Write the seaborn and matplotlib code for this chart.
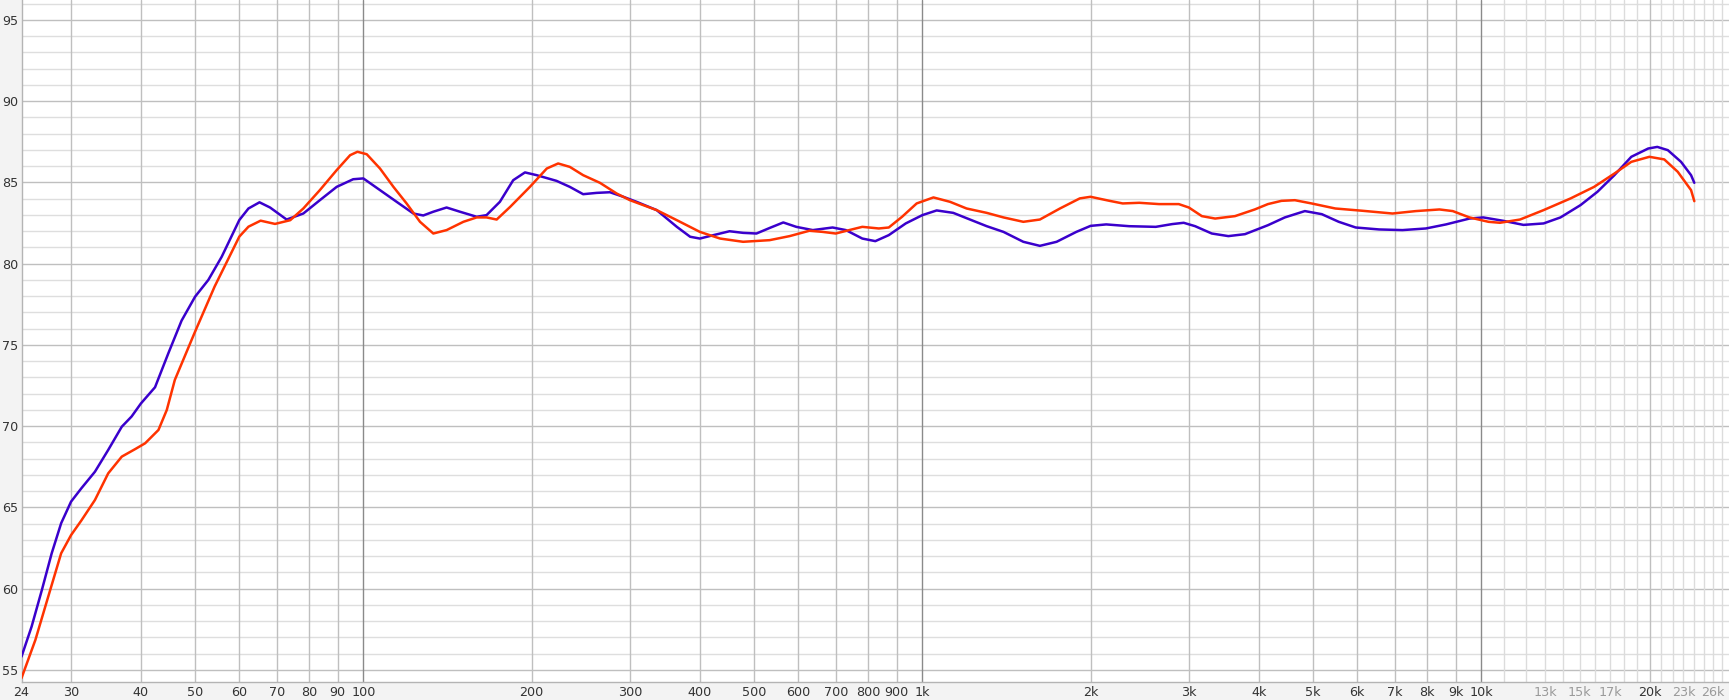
import matplotlib
matplotlib.use('Agg')
import matplotlib.pyplot as plt
import seaborn as sns
import pandas as pd
import numpy as np

# frequency response (Hz, dB)
blue_freq = [24.46, 25.5, 26.6, 27.7, 28.8, 30.0, 31.3, 33.1, 34.96, 36.97, 38.5, 40.0,
             42.4, 44.8, 47.3, 50.0, 52.8, 55.8, 60.0, 62.3, 65.2, 68.1, 72.9, 78.1,
             83.6, 89.6, 95.9, 100, 107.1, 114.7, 122.9, 128.0, 133.4, 140.9, 148.9,
             159.5, 166.1, 175.5, 185.4, 194.6, 204.2, 221.6, 234.1, 247.3, 261.4,
             276.1, 291.8, 308.2, 334.8, 363.8, 384.3, 400, 423, 452, 478, 505, 534,
             564, 595, 637, 691, 730, 781, 824, 871, 934, 1000, 1061, 1136, 1217, 1304,
             1397, 1516, 1623, 1739, 1886, 2000, 2133, 2345, 2616, 2800, 2935, 3077,
             3295, 3528, 3778, 4152, 4452, 4835, 5184, 5559, 5961, 6564, 7228, 7960,
             8649, 9524, 10082, 10952, 11898, 12926, 13858, 15054, 16139, 17303, 18551,
             19889, 20649, 21563, 22770, 23730, 24050]
blue_db = [55.82, 57.67, 59.92, 62.18, 64.03, 65.36, 66.18, 67.2, 68.54, 69.97, 70.6, 71.4,
           72.4, 74.5, 76.5, 77.97, 79.0, 80.43, 82.69, 83.4, 83.78, 83.46, 82.72, 83.09,
           83.91, 84.73, 85.2, 85.25, 84.53, 83.81, 83.09, 82.97, 83.2, 83.46, 83.2,
           82.89, 82.99, 83.81, 85.14, 85.62, 85.45, 85.1, 84.73, 84.28, 84.36,
           84.4, 84.12, 83.81, 83.3, 82.27, 81.66, 81.55, 81.76, 82.0, 81.9, 81.86, 82.21,
           82.54, 82.27, 82.07, 82.23, 82.07, 81.55, 81.39, 81.76, 82.48, 82.99, 83.28, 83.13, 82.72, 82.31,
           81.96, 81.35, 81.1, 81.35, 81.96, 82.33, 82.42, 82.31, 82.27, 82.44, 82.52, 82.31,
           81.86, 81.7, 81.82, 82.37, 82.85, 83.24, 83.05, 82.58, 82.23, 82.11, 82.07, 82.17,
           82.42, 82.78, 82.85, 82.64, 82.39, 82.48, 82.85, 83.61, 84.43, 85.45, 86.58,
           87.09, 87.19, 86.99, 86.27, 85.45, 84.98]

red_freq = [24.46, 25.9, 27.3, 28.8, 30.0, 31.3, 33.1, 34.96, 36.97, 39.1, 40.7, 43.0,
            44.5, 46.0, 50.0, 54.2, 60.0, 62.3, 65.5, 69.5, 74.0, 78.1, 83.6, 89.6,
            94.7, 97.6, 101.4, 107.1, 113.2, 119.5, 126.3, 133.4, 140.9, 151.0, 159.5,
            166.1, 173.2, 183.1, 198.6, 212.9, 223.1, 234.1, 247.3, 265.0, 284.0, 299.9,
            334.8, 363.8, 400, 434.7, 478, 533, 579, 628, 663, 700, 740, 781, 836, 871,
            920, 977, 1047, 1121, 1200, 1304, 1397, 1516, 1623, 1763, 1913, 2000, 2163,
            2283, 2445, 2652, 2876, 2998, 3163, 3341, 3626, 3933, 4152, 4391, 4640, 4970,
            5480, 6127, 6936, 7638, 8418, 8892, 9524, 10301, 10800, 11730, 12926, 14448,
            15915, 17303, 18551, 19988, 21250, 22460, 23730, 24050]
red_db = [54.5, 56.85, 59.5, 62.18, 63.3, 64.2, 65.46, 67.1, 68.13, 68.6, 68.95, 69.77,
          71.0, 72.85, 75.82, 78.6, 81.67, 82.28, 82.65, 82.45, 82.68, 83.4, 84.53, 85.76,
          86.68, 86.89, 86.74, 85.86, 84.73, 83.71, 82.58, 81.86, 82.07, 82.58, 82.85,
          82.85, 82.72, 83.5, 84.73, 85.86, 86.17, 85.96, 85.45, 84.98, 84.32, 83.91,
          83.3, 82.68, 81.96, 81.55, 81.35, 81.45, 81.7, 82.03, 81.96, 81.86, 82.07, 82.27, 82.17, 82.23,
          82.89, 83.71, 84.08, 83.81, 83.4, 83.13, 82.85, 82.58, 82.72, 83.4, 84.02, 84.12, 83.87,
          83.71, 83.75, 83.67, 83.67, 83.46, 82.93, 82.78, 82.93, 83.34, 83.67, 83.87, 83.91, 83.71,
          83.4, 83.26, 83.09, 83.24, 83.34, 83.24, 82.85, 82.58, 82.52, 82.72, 83.3, 84.02,
          84.73, 85.55, 86.27, 86.58, 86.42, 85.66, 84.53, 83.85]

# axis ticks
y_ticks = [55, 60, 65, 70, 75, 80, 85, 90, 95]
x_ticks = [30, 40, 50, 60, 70, 80, 90, 100, 200, 300, 400, 500, 600, 700, 800, 900,
           1000, 2000, 3000, 4000, 5000, 6000, 7000, 8000, 9000, 10000,
           13000, 15000, 17000, 20000, 23000, 26000]
x_labels = ['30', '40', '50', '60', '70', '80', '90', '100', '200', '300', '400', '500',
            '600', '700', '800', '900', '1k', '2k', '3k', '4k', '5k', '6k', '7k', '8k',
            '9k', '10k', '13k', '15k', '17k', '20k', '23k', '26k']
faint_labels = ['13k', '15k', '17k', '23k', '26k']
decade_lines = [100, 1000, 10000]
fine_lines = [f for f in range(11000, 28000, 1000) if f != 20000]

X_MIN, X_MAX = 24.46, 27744
Y_MIN, Y_MAX = 54.26, 96.23

sns.set_style('white')
plt.rcParams['font.family'] = ['Liberation Sans Narrow', 'DejaVu Sans']

fig = plt.figure(figsize=(17.29, 7.0), dpi=100, facecolor='#f3f3f3')
ax = fig.add_axes([21.5 / 1729, 18 / 700, 1 - 21.5 / 1729, 682 / 700])
ax.set_facecolor('white')
ax.set_xscale('log')

# grid
for v in range(55, 97):
    major = v % 5 == 0
    ax.axhline(v, color='#bfbfbf' if major else '#dedede', lw=1.0, zorder=1)
for f in x_ticks[:-6] + [20000]:
    if f in decade_lines:
        continue
    ax.axvline(f, color='#bfbfbf', lw=1.0, zorder=1)
for f in fine_lines:
    ax.axvline(f, color='#dcdcdc', lw=1.0, zorder=1)
for f in decade_lines:
    ax.axvline(f, color='#8a8a8a', lw=1.0, zorder=2)

df_blue = pd.DataFrame({'freq': blue_freq, 'db': blue_db})
df_red = pd.DataFrame({'freq': red_freq, 'db': red_db})
sns.lineplot(data=df_blue, x='freq', y='db', color='#3a00cc', lw=1.8, sort=False,
             estimator=None, ax=ax, zorder=4, solid_joinstyle='round',
             solid_capstyle='round')
sns.lineplot(data=df_red, x='freq', y='db', color='#ff3300', lw=1.8, sort=False,
             estimator=None, ax=ax, zorder=5, solid_joinstyle='round',
             solid_capstyle='round')

ax.set_xlim(X_MIN, X_MAX)
ax.set_ylim(Y_MIN, Y_MAX)
ax.set_xlabel('')
ax.set_ylabel('')

ax.set_xticks([X_MIN] + x_ticks)
ax.set_xticklabels(['24'] + x_labels)
ax.xaxis.set_minor_locator(matplotlib.ticker.NullLocator())
ax.set_yticks(y_ticks)
ax.set_yticklabels([str(v) for v in y_ticks])
ax.tick_params(axis='x', length=0, pad=3, labelsize=9.2, colors='#333333')
ax.tick_params(axis='y', length=0, pad=2.2, labelsize=9.2, colors='#333333')
for lab in ax.get_xticklabels():
    if lab.get_text() in faint_labels:
        lab.set_color('#9a9a9a')

for side in ['top', 'right']:
    ax.spines[side].set_visible(False)
for side in ['left', 'bottom']:
    ax.spines[side].set_color('#b4b4b4')
    ax.spines[side].set_linewidth(1.0)

fig.savefig('out.png', dpi=100, facecolor=fig.get_facecolor())
